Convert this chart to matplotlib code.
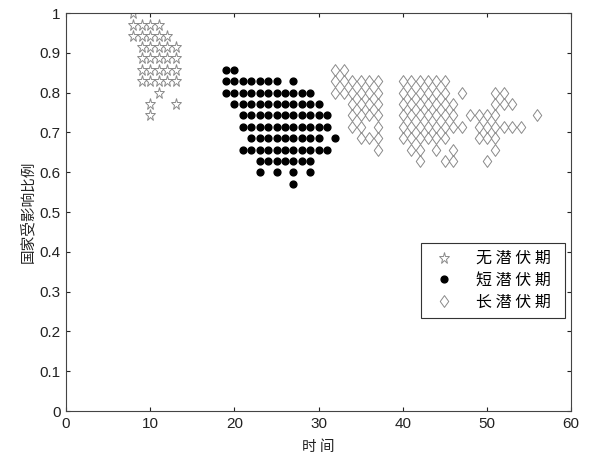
import matplotlib
matplotlib.use("Agg")
import matplotlib.pyplot as plt
from matplotlib.path import Path
from matplotlib.ticker import FuncFormatter

plt.rcParams['font.family'] = ['Liberation Sans', 'Noto Sans CJK SC', 'DejaVu Sans']

# Each row: (share of affected countries, list of times)
none_rows = [
    (1.000, [8]),
    (0.971, [8, 9, 10, 11]),
    (0.943, [8, 9, 10, 11, 12]),
    (0.914, [9, 10, 11, 12, 13]),
    (0.886, [9, 10, 11, 12, 13]),
    (0.857, [9, 10, 11, 12, 13]),
    (0.829, [9, 10, 11, 12, 13]),
    (0.800, [11]),
    (0.771, [10, 13]),
    (0.743, [10]),
]

short_rows = [
    (0.857, [19, 20]),
    (0.829, [19, 20, 21, 22, 23, 24, 25, 27]),
    (0.800, [19, 20, 21, 22, 23, 24, 25, 26, 27, 28, 29]),
    (0.771, [20, 21, 22, 23, 24, 25, 26, 27, 28, 29, 30]),
    (0.743, [21, 22, 23, 24, 25, 26, 27, 28, 29, 30, 31]),
    (0.714, [21, 22, 23, 24, 25, 26, 27, 28, 29, 30, 31]),
    (0.686, [22, 23, 24, 25, 26, 27, 28, 29, 30, 32]),
    (0.657, [21, 22, 23, 24, 25, 26, 27, 28, 29, 30, 31]),
    (0.629, [23, 24, 25, 26, 27, 28, 29]),
    (0.600, [23, 25, 27, 29]),
    (0.571, [27]),
]

long_rows = [
    (0.857, [32, 33]),
    (0.829, [32, 33, 34, 35, 36, 37, 40, 41, 42, 43, 44, 45]),
    (0.800, [32, 33, 34, 35, 36, 37, 40, 41, 42, 43, 44, 45, 47, 51, 52]),
    (0.771, [34, 35, 36, 37, 40, 41, 42, 43, 44, 45, 46, 51, 52, 53]),
    (0.743, [34, 35, 36, 37, 40, 41, 42, 43, 44, 45, 46, 48, 49, 50, 51, 56]),
    (0.714, [34, 35, 37, 40, 41, 42, 43, 44, 45, 46, 47, 49, 50, 51, 52, 53, 54]),
    (0.686, [35, 36, 37, 40, 41, 42, 43, 44, 45, 49, 50, 51]),
    (0.657, [37, 41, 42, 44, 46, 51]),
    (0.629, [42, 45, 46, 50]),
]

labels = ['无 潜 伏 期  ', '短 潜 伏 期  ', '长 潜 伏 期  ']
x_ticks = [0, 10, 20, 30, 40, 50, 60]
y_ticks = [0, 0.1, 0.2, 0.3, 0.4, 0.5, 0.6, 0.7, 0.8, 0.9, 1.0]


def expand(rows):
    xs, ys = [], []
    for y, row in rows:
        xs.extend(row)
        ys.extend([y] * len(row))
    return xs, ys


# MATLAB-like diamond: taller than wide
diamond = Path([(0, 1), (0.72, 0), (0, -1), (-0.72, 0), (0, 1)],
               [Path.MOVETO, Path.LINETO, Path.LINETO, Path.LINETO, Path.CLOSEPOLY])

fig = plt.figure(figsize=(5.90, 4.58), dpi=100)
ax = fig.add_axes([0.112, 0.1026, 0.856, 0.869])

gray = '#8a8a8a'
xs, ys = expand(none_rows)
ax.plot(xs, ys, linestyle='none', marker='*', markersize=8.2,
        markerfacecolor='none', markeredgecolor=gray, markeredgewidth=0.7,
        label=labels[0])
xs, ys = expand(short_rows)
ax.plot(xs, ys, linestyle='none', marker='o', markersize=4.9,
        markerfacecolor='black', markeredgecolor='black', label=labels[1])
xs, ys = expand(long_rows)
ax.plot(xs, ys, linestyle='none', marker=diamond, markersize=8.5,
        markerfacecolor='none', markeredgecolor=gray, markeredgewidth=0.7,
        label=labels[2])

ax.set_xlim(0, 60)
ax.set_ylim(0, 1)
ax.set_xticks(x_ticks)
ax.set_yticks(y_ticks)
ax.yaxis.set_major_formatter(FuncFormatter(lambda v, p: f'{v:g}'))
ax.tick_params(direction='in', length=3, width=0.8, top=True, right=True,
               labelsize=11, colors='#222222', pad=4)
for s in ax.spines.values():
    s.set_color('#444444')
    s.set_linewidth(0.8)

cjk = ['Noto Sans CJK SC', 'DejaVu Sans']
ax.set_xlabel('时 间', family=cjk, fontsize=10.5, color='#222222', labelpad=7)
ax.set_ylabel('国家受影响比例', family=cjk, fontsize=10.5, color='#222222', labelpad=3)

leg = ax.legend(loc='lower right', bbox_to_anchor=(0.988, 0.234),
                prop={'family': cjk, 'size': 11.5}, fancybox=False,
                framealpha=1, edgecolor='#333333', borderpad=0.45,
                labelspacing=0.3, handletextpad=1.0, handlelength=2.0,
                borderaxespad=0)
leg.get_frame().set_linewidth(0.8)

fig.savefig('out.png', dpi=100)
